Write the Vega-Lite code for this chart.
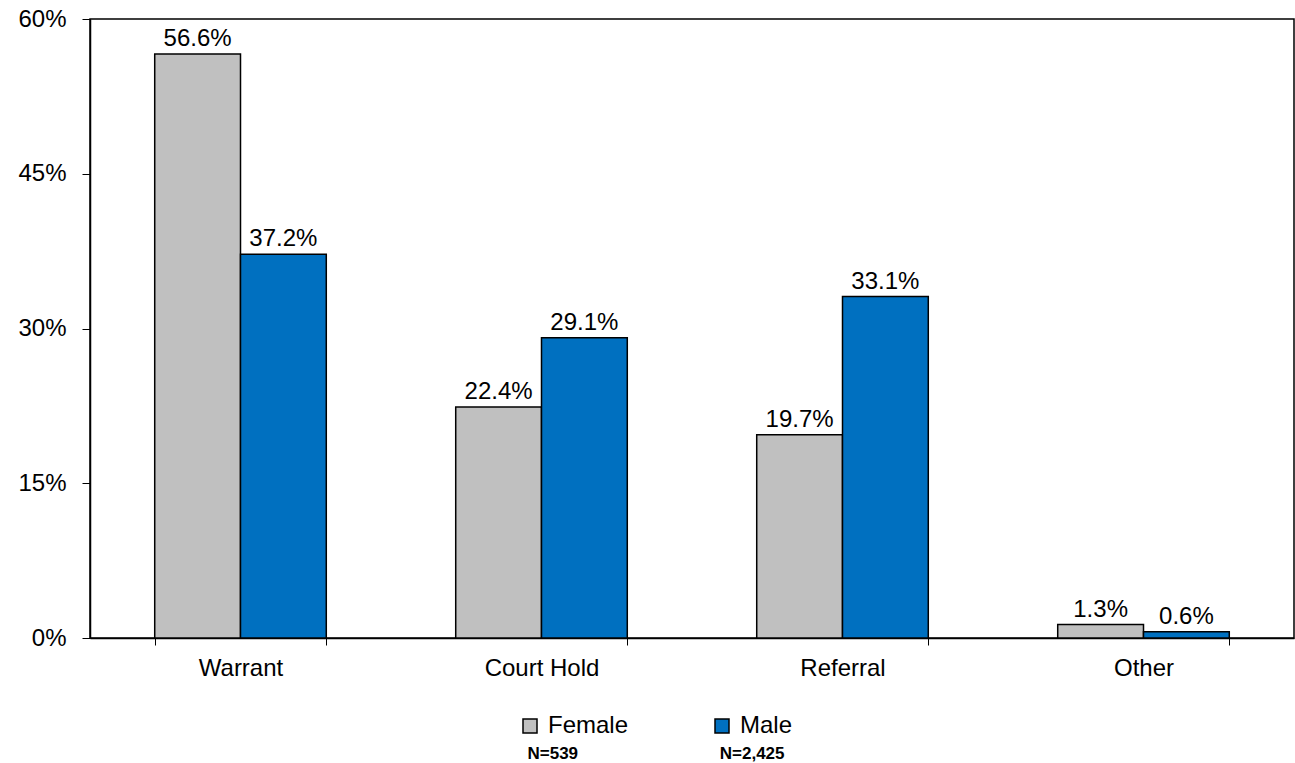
{
  "$schema": "https://vega.github.io/schema/vega-lite/v6.json",
  "width": 1204,
  "height": 619,
  "autosize": {"type": "none"},
  "padding": {"left": 90, "top": 19, "right": 1, "bottom": 125},
  "background": "white",
  "config": {
    "font": "Liberation Sans",
    "view": {"stroke": "black", "strokeWidth": 1.5},
    "axis": {"grid": false, "domainColor": "black", "tickColor": "black", "labelColor": "black", "labelFont": "Liberation Sans", "labelFontSize": 24, "domainWidth": 1.5}
  },
  "data": {
    "values": [
      {"category": "Warrant", "gender": "Female", "value": 0.566},
      {"category": "Warrant", "gender": "Male", "value": 0.372},
      {"category": "Court Hold", "gender": "Female", "value": 0.224},
      {"category": "Court Hold", "gender": "Male", "value": 0.291},
      {"category": "Referral", "gender": "Female", "value": 0.197},
      {"category": "Referral", "gender": "Male", "value": 0.331},
      {"category": "Other", "gender": "Female", "value": 0.013},
      {"category": "Other", "gender": "Male", "value": 0.006}
    ]
  },
  "encoding": {
    "x": {
      "field": "category", "type": "nominal", "sort": ["Warrant", "Court Hold", "Referral", "Other"],
      "scale": {"paddingInner": 0.43, "paddingOuter": 0.215},
      "axis": {
        "labelAngle": 0, "tickBand": "extent", "tickSize": 7, "labelPadding": 11,
        "title": "N=539\u00a0\u00a0\u00a0\u00a0\u00a0\u00a0\u00a0\u00a0\u00a0\u00a0\u00a0\u00a0\u00a0\u00a0\u00a0\u00a0\u00a0\u00a0\u00a0\u00a0\u00a0\u00a0\u00a0\u00a0\u00a0\u00a0\u00a0\u00a0\u00a0\u00a0N=2,425",
        "titleFontSize": 17, "titleFontWeight": "bold", "titleColor": "black",
        "titleX": 437, "titleY": 120, "titleAlign": "left", "titleAnchor": null, "titleBaseline": "alphabetic"
      }
    },
    "xOffset": {"field": "gender", "type": "nominal", "sort": ["Female", "Male"]},
    "y": {
      "field": "value", "type": "quantitative",
      "scale": {"domain": [0, 0.6], "nice": false},
      "axis": {"values": [0, 0.15, 0.3, 0.45, 0.6], "format": ".0%", "title": null, "tickSize": 8, "labelPadding": 16}
    }
  },
  "layer": [
    {
      "mark": {"type": "bar", "stroke": "black", "strokeWidth": 1.5},
      "encoding": {
        "color": {
          "field": "gender", "type": "nominal",
          "scale": {"domain": ["Female", "Male"], "range": ["#C0C0C0", "#0070C0"]},
          "legend": {
            "title": null, "orient": "none", "legendX": 428, "legendY": 695, "direction": "horizontal", "columns": 2,
            "columnPadding": 81, "padding": 0, "symbolType": "square", "symbolSize": 196,
            "symbolStrokeColor": "black", "symbolStrokeWidth": 1.5, "labelFontSize": 24, "labelColor": "black",
            "labelOffset": 6, "symbolOpacity": 1
          }
        }
      }
    },
    {
      "mark": {"type": "text", "baseline": "bottom", "dy": -3, "fontSize": 24, "color": "black"},
      "encoding": {
        "text": {"field": "value", "type": "quantitative", "format": ".1%"}
      }
    }
  ]
}
